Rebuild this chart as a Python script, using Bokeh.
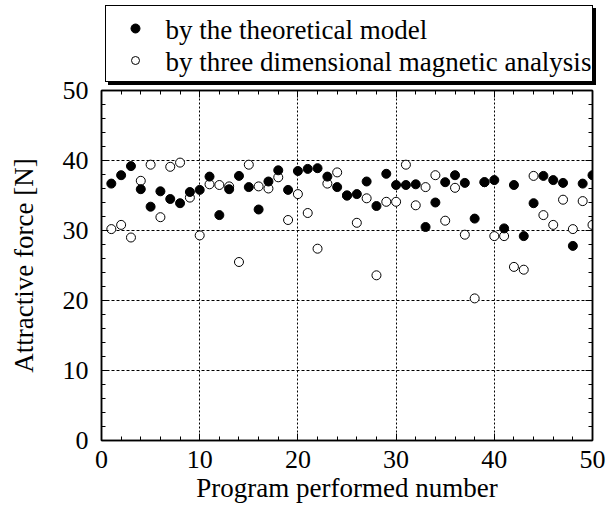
from bokeh.plotting import figure
from bokeh.layouts import column
from bokeh.models import Range1d, LinearAxis, SingleIntervalTicker, Div
from bokeh.core.properties import value
from bokeh.embed import file_html
from bokeh.resources import INLINE

program_number = list(range(1, 51))
theoretical_model = [36.7, 37.9, 39.2, 35.9, 33.4, 35.6, 34.5, 33.9, 35.5, 35.8,
                     37.7, 32.2, 35.9, 37.8, 36.2, 33.0, 37.0, 38.6, 35.8, 38.5,
                     38.8, 38.9, 37.7, 36.2, 35.0, 35.2, 37.0, 33.5, 38.1, 36.5,
                     36.5, 36.6, 30.5, 34.0, 36.9, 37.9, 36.8, 31.7, 36.9, 37.2,
                     30.3, 36.5, 29.2, 33.9, 37.8, 37.2, 36.8, 27.8, 36.7, 37.9]
magnetic_analysis = [30.2, 30.8, 29.0, 37.1, 39.4, 31.9, 39.1, 39.7, 34.7, 29.3,
                     36.6, 36.5, 36.3, 25.5, 39.4, 36.3, 36.0, 37.6, 31.5, 35.2,
                     32.5, 27.4, 36.7, 38.3, 35.0, 31.1, 34.6, 23.6, 34.1, 34.1,
                     39.4, 33.6, 36.2, 37.9, 31.4, 36.1, 29.4, 20.3, 36.9, 29.2,
                     29.2, 24.8, 24.4, 37.8, 32.2, 30.8, 34.4, 30.2, 34.2, 30.8]
legend_labels = ["by the theoretical model", "by three dimensional magnetic analysis"]
x_title = "Program performed number"
y_title = "Attractive force [N]"

FONT = "Liberation Serif"
W = 606
H = 505
LH = 90

# ---------------- main plot ----------------
p = figure(width=W, height=H, output_backend="svg", toolbar_location=None,
           x_range=Range1d(0, 50), y_range=Range1d(0, 50),
           min_border_left=101, min_border_top=LH, min_border_right=14,
           min_border_bottom=64,
           x_axis_label=x_title, y_axis_label=y_title)
p.background_fill_color = "white"
p.border_fill_color = "white"
p.outline_line_color = "black"
p.outline_line_width = 1.5

def style_axis(ax, show_labels=True):
    ax.ticker = SingleIntervalTicker(interval=10, num_minor_ticks=5)
    ax.axis_line_color = "black"
    ax.axis_line_width = 1.5
    ax.major_tick_in = 7
    ax.major_tick_out = 0
    ax.minor_tick_in = 4
    ax.minor_tick_out = 0
    ax.major_tick_line_color = "black"
    ax.minor_tick_line_color = "black"
    ax.major_label_text_font = FONT
    ax.major_label_text_color = "black"
    ax.axis_label_text_font = FONT
    ax.axis_label_text_font_style = "normal"
    ax.axis_label_text_color = "black"
    ax.axis_label_text_font_size = "27px"
    if show_labels:
        ax.major_label_text_font_size = "26px"
    else:
        ax.major_label_text_font_size = "0px"
        ax.major_label_standoff = 0

style_axis(p.xaxis[0])
style_axis(p.yaxis[0])
p.xaxis[0].major_label_standoff = 10
p.xaxis[0].axis_label_standoff = 2
p.yaxis[0].major_label_standoff = 13
p.yaxis[0].axis_label_standoff = 21

top_axis = LinearAxis()
right_axis = LinearAxis()
style_axis(top_axis, False)
style_axis(right_axis, False)
p.add_layout(top_axis, "above")
p.add_layout(right_axis, "right")

p.xgrid.ticker = SingleIntervalTicker(interval=10)
p.ygrid.ticker = SingleIntervalTicker(interval=10)
p.xgrid.grid_line_color = "black"
p.xgrid.grid_line_dash = "2 2"
p.xgrid.grid_line_width = 1
p.ygrid.grid_line_color = "black"
p.ygrid.grid_line_dash = "3 2"
p.ygrid.grid_line_width = 1

p.scatter(program_number, magnetic_analysis, marker="circle", size=9,
          fill_color="white", line_color="black", line_width=1)
p.scatter(program_number, theoretical_model, marker="circle", size=9,
          fill_color="black", line_color="black")

# ---------------- legend box (frame + drop shadow), laid over the top border ----------------
box_html = ('<div style="position:relative;width:%dpx;height:%dpx;">'
            '<div style="position:absolute;left:105px;top:5px;width:488px;height:77px;'
            'box-sizing:border-box;border:1px solid #000;box-shadow:3px 3px 0 #000;'
            'background:#fff;"></div></div>' % (W, LH))
legend_box = Div(text=box_html, width=W, height=LH, margin=(-H, 0, 0, 0))

# ---------------- legend entries (markers + texts), transparent overlay ----------------
leg = figure(width=W, height=LH, output_backend="svg", toolbar_location=None,
             x_range=Range1d(101, W - 14), y_range=Range1d(LH, 0),
             min_border_left=101, min_border_right=14, min_border_top=0,
             min_border_bottom=0, x_axis_location=None, y_axis_location=None,
             margin=(-LH, 0, 0, 0))
leg.outline_line_color = None
leg.grid.visible = False
leg.background_fill_alpha = 0
leg.border_fill_alpha = 0
leg.scatter([135], [28], marker="circle", size=9, fill_color="black", line_color="black")
leg.scatter([135], [60], marker="circle", size=8, fill_color="white", line_color="black",
            line_width=1)
leg.text([165, 165], [29, 61], text=legend_labels, text_font=value(FONT),
         text_font_size="27px", text_baseline="middle", text_align="left",
         text_color="black")

layout = column(p, legend_box, leg, spacing=0)
open("out.html", "w").write(file_html(layout, INLINE))
